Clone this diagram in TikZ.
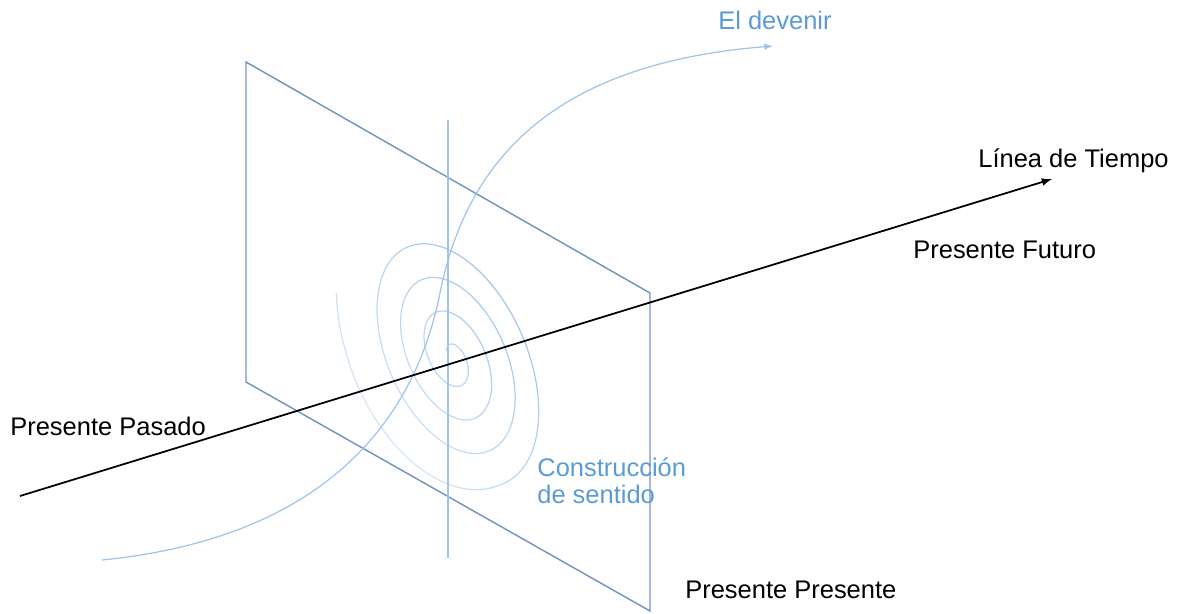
\documentclass[tikz,border=0pt]{standalone}
\usepackage{fontspec}
\setmainfont{Liberation Sans}
\usetikzlibrary{fadings}
\definecolor{plano}{RGB}{112,146,190}
\definecolor{celeste}{RGB}{160,196,232}
\definecolor{azul}{RGB}{91,155,213}
\tikzfading[name=desvanecer, left color=transparent!65, right color=transparent!0]

\begin{document}
\begin{tikzpicture}[x=0.02cm, y=-0.02cm, font=\fontsize{14.5}{15.3}\selectfont,
  trazo/.style={celeste, line width=0.7pt},
  etiqueta/.style={anchor=base west, inner sep=0},
  declare function={rampa(\t)=min(1,max(0,(\t-1440)/100));}]
\useasboundingbox (0,0) rectangle (1180,613);

% el plano del presente
\coordinate (a) at (246,62);
\coordinate (b) at (650,293);
\coordinate (c) at (650,611);
\coordinate (d) at (246,382);
\draw [plano, line width=0.8pt] (a) -- (b) -- (c) -- (d) -- cycle;

% eje vertical
\coordinate (v0) at (448,120);
\coordinate (v1) at (448,558);
\draw [trazo] (v0) -- (v1);

% espiral
\begin{scope}[shift={(452,357)}, rotate=-66.2, xscale=1.75]
\draw [trazo, path fading=desvanecer, fading angle=40] plot [domain=150:1567, samples=700]
  (\x:{7.3+0.0567*(\x-194)+15*rampa(\x)^2*(3-2*rampa(\x))});
\end{scope}

% el devenir
\coordinate (e0) at (102,560);
\coordinate (e1) at (440,293);
\coordinate (e2) at (773,46);
\draw [trazo, -latex] (e0) .. controls (312,539) and (412,433) .. (e1)
  .. controls (470,143) and (573,62) .. (e2);

% linea de tiempo
\coordinate (t0) at (20,496);
\coordinate (t1) at (1052,179);
\draw [-latex, line width=1pt] (t0) -- (t1);

\node [etiqueta, text=azul] (devenir) at (718,29) {El devenir};
\node [etiqueta] (linea) at (978,167) {Línea de Tiempo};
\node [etiqueta] (futuro) at (913,258) {Presente Futuro};
\node [etiqueta] (pasado) at (10,435) {Presente Pasado};
\node [etiqueta] (presente) at (685,598) {Presente Presente};
\node [etiqueta, align=left, text=azul] (sentido) at (537,503) {Construcción\\de sentido};
\end{tikzpicture}
\end{document}
